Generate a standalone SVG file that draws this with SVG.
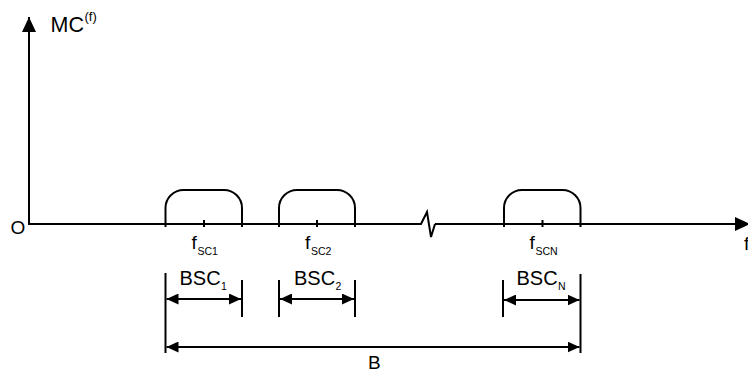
<svg xmlns="http://www.w3.org/2000/svg" width="748" height="373" viewBox="0 0 748 373">
  <style>
    .ln { stroke: #000; stroke-width: 2; fill: none; }
    .t { font-family: "Liberation Sans", Arial, sans-serif; font-size: 20px; fill: #000; }
    .sub { font-family: "Liberation Sans", Arial, sans-serif; font-size: 10.5px; fill: #000; }
    .sup { font-family: "Liberation Sans", Arial, sans-serif; font-size: 13px; fill: #000; }
  </style>
  <defs>
    <marker id="arr" markerUnits="userSpaceOnUse" markerWidth="12" markerHeight="11" refX="12" refY="5.5" orient="auto-start-reverse" viewBox="0 0 12 11">
      <path d="M0,0 L12,5.5 L0,11 Z" fill="#000"/>
    </marker>
    <marker id="axarr" markerUnits="userSpaceOnUse" markerWidth="15" markerHeight="14" refX="15" refY="7" orient="auto" viewBox="0 0 15 14">
      <path d="M0,0 L15,7 L0,14 Z" fill="#000"/>
    </marker>
  </defs>

  <!-- axes -->
  <g id="axes">
    <line class="ln" x1="29" y1="224" x2="29" y2="17" marker-end="url(#axarr)"/>
    <polyline class="ln" points="28,224 421,224 427,212 431,237 435,224"/>
    <line class="ln" x1="435" y1="224" x2="750" y2="224" marker-end="url(#axarr)"/>
    <text class="t" x="10.5" y="234" style="font-size:19px">O</text>
    <text class="t" x="744" y="250" style="font-size:19px">f</text>
    <text class="t" x="50.5" y="32" style="font-size:21.5px">MC</text>
    <text class="sup" x="84.5" y="21">(f)</text>
  </g>

  <!-- sub-carrier 1 -->
  <g id="sc1">
    <path class="ln" d="M165.5,227 V208 A18,18 0 0 1 183.5,190 H224 A18,18 0 0 1 242,208 V227"/>
    <line class="ln" x1="204" y1="220" x2="204" y2="227"/>
    <text class="t" x="191.5" y="249" style="font-size:19px">f</text>
    <text class="sub" x="197.5" y="254.5">SC1</text>
  </g>

  <!-- sub-carrier 2 -->
  <g id="sc2">
    <path class="ln" d="M279,227 V208 A18,18 0 0 1 297,190 H337 A18,18 0 0 1 355,208 V227"/>
    <line class="ln" x1="317" y1="220" x2="317" y2="227"/>
    <text class="t" x="305" y="249" style="font-size:19px">f</text>
    <text class="sub" x="311" y="254.5">SC2</text>
  </g>

  <!-- sub-carrier N -->
  <g id="scN">
    <path class="ln" d="M504,227 V208 A18,18 0 0 1 522,190 H562.5 A18,18 0 0 1 580.5,208 V227"/>
    <line class="ln" x1="542.5" y1="220" x2="542.5" y2="227"/>
    <text class="t" x="529.5" y="249" style="font-size:19px">f</text>
    <text class="sub" x="535.5" y="254.5">SCN</text>
  </g>

  <!-- bandwidth dimensions -->
  <g id="connectors">
    <line class="ln" x1="165.5" y1="273" x2="165.5" y2="353"/>
    <line class="ln" x1="242" y1="280" x2="242" y2="317"/>
    <line class="ln" x1="166.5" y1="299" x2="241" y2="299" marker-start="url(#arr)" marker-end="url(#arr)"/>

    <line class="ln" x1="279" y1="280" x2="279" y2="317"/>
    <line class="ln" x1="355" y1="280" x2="355" y2="317"/>
    <line class="ln" x1="280" y1="299" x2="354" y2="299" marker-start="url(#arr)" marker-end="url(#arr)"/>

    <line class="ln" x1="503" y1="280" x2="503" y2="317"/>
    <line class="ln" x1="580.5" y1="274" x2="580.5" y2="353"/>
    <line class="ln" x1="504" y1="300" x2="579.5" y2="300" marker-start="url(#arr)" marker-end="url(#arr)"/>

    <line class="ln" x1="166.5" y1="347" x2="579.5" y2="347" marker-start="url(#arr)" marker-end="url(#arr)"/>
  </g>

  <g id="labels">
    <text class="t" x="179.5" y="285">BSC</text>
    <text class="sub" x="221" y="289.5">1</text>
    <text class="t" x="294" y="285">BSC</text>
    <text class="sub" x="335.5" y="289.5">2</text>
    <text class="t" x="516.5" y="285">BSC</text>
    <text class="sub" x="558" y="289.5">N</text>
    <text class="t" x="368" y="369" style="font-size:19px">B</text>
  </g>
</svg>
